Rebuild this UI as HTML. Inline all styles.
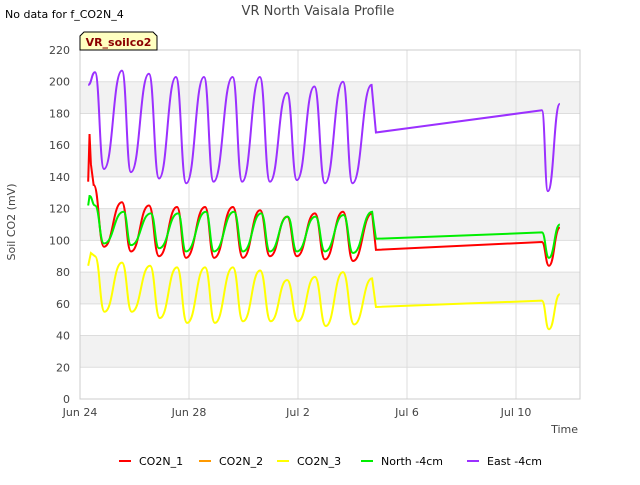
<!DOCTYPE html>
<html><head><meta charset="utf-8"><style>
body{margin:0;background:#fff;font-family:"Liberation Sans","DejaVu Sans",sans-serif;}
svg text{font-family:"DejaVu Sans","Liberation Sans",sans-serif;}
</style></head><body>
<svg id="c" width="640" height="480" xmlns="http://www.w3.org/2000/svg">
<rect width="640" height="480" fill="#fff"/>
<text x="5" y="18" font-size="11" fill="#000">No data for f_CO2N_4</text>
<text x="318" y="15" font-size="13" fill="#444" text-anchor="middle">VR North Vaisala Profile</text>
<g id="grid"></g>
<g id="axes"></g>
<g id="series"></g>
<text x="18" y="225" font-size="11" fill="#444" text-anchor="middle" transform="rotate(-90 15 225)">Soil CO2 (mV)</text>
<text x="578" y="433" font-size="11" fill="#444" text-anchor="end">Time</text>
<g>
<path d="M80,50 L80,36 L84,32 L153,32 L157,36 L157,50 Z" fill="#ffffc0" stroke="#000" stroke-width="1"/>
<text x="118.5" y="46" font-size="11" font-weight="bold" fill="#8b0000" text-anchor="middle">VR_soilco2</text>
</g>
<g id="legend"></g>
</svg>
<script>
const yTicks=[0,20,40,60,80,100,120,140,160,180,200,220];
const xTickDays=[0,4,8,12,16];
const xTickLabels=["Jun 24","Jun 28","Jul 2","Jul 6","Jul 10"];
const seriesNames=["CO2N_1","CO2N_2","CO2N_3","North -4cm","East -4cm"];
const seriesColors=["#ff0000","#ff9900","#ffff00","#00ee00","#9b30ff"];
const t1=[0.30,0.35,0.40,0.50,0.88,1.54,1.87,2.53,2.90,3.56,3.89,4.59,4.92,5.61,5.98,6.61,6.97,7.60,7.96,8.62,8.99,9.65,10.02,10.72,10.86,16.95,17.21,17.61];
const v1=[137,167,148,135,96,124,93,122,90,121,89,121,89,121,89,119,90,115,90,117,88,118,87,117,94,99,84,108];
const t3=[0.30,0.40,0.55,0.90,1.54,1.90,2.57,2.93,3.56,3.93,4.59,4.95,5.61,5.98,6.61,7.00,7.60,8.00,8.62,9.02,9.65,10.06,10.72,10.86,16.95,17.21,17.61];
const v3=[84,92,90,55,86,55,84,51,83,48,83,48,83,49,81,49,75,49,77,46,80,47,76,58,62,44,66];
const t4=[0.30,0.35,0.55,0.88,1.60,1.87,2.60,2.90,3.60,3.89,4.62,4.92,5.65,5.98,6.65,6.97,7.62,7.96,8.64,8.99,9.67,10.02,10.72,10.86,16.95,17.21,17.61];
const v4=[122,128,122,98,118,97,117,95,117,93,118,93,118,93,117,93,115,93,115,93,116,92,118,101,105,89,110];
const t5=[0.30,0.55,0.88,1.54,1.87,2.53,2.90,3.52,3.90,4.55,4.90,5.60,5.95,6.60,6.97,7.60,7.96,8.60,8.99,9.65,10.00,10.70,10.86,16.95,17.17,17.61];
const v5=[198,206,145,207,143,205,139,203,136,203,137,203,137,203,137,193,138,197,136,200,136,198,168,182,131,186];
const seriesT=[t1,null,t3,t4,t5];
const seriesV=[v1,null,v3,v4,v5];
const NS="http://www.w3.org/2000/svg";
const X0=80,X1=580,Y0=399,Y1=50;
const xs=d=>X0+d*27.25;
const ys=v=>Y0-(v/220)*(Y0-Y1);
function mk(tag,at,parent){const e=document.createElementNS(NS,tag);for(const k in at)e.setAttribute(k,at[k]);parent.appendChild(e);return e;}
const grid=document.getElementById('grid'),axes=document.getElementById('axes'),ser=document.getElementById('series'),leg=document.getElementById('legend');
for(let i=0;i<yTicks.length-1;i++){if(i%2===1){const r=mk('rect',{x:X0,y:ys(yTicks[i+1]),width:X1-X0,height:ys(yTicks[i])-ys(yTicks[i+1]),fill:'#f2f2f2'},grid);

}}
yTicks.forEach(v=>{const l=mk('line',{x1:X0,x2:X1,y1:ys(v),y2:ys(v),stroke:'#ddd','stroke-width':1},grid);


const t=mk('text',{x:X0-10,y:ys(v)+4,'font-size':11,fill:'#444','text-anchor':'end'},axes);t.textContent=v;

});
xTickDays.forEach((d,i)=>{const l=mk('line',{x1:xs(d),x2:xs(d),y1:Y1,y2:Y0,stroke:'#ddd','stroke-width':1},grid);


const t=mk('text',{x:xs(d),y:Y0+17,'font-size':11,fill:'#444','text-anchor':'middle'},axes);t.textContent=xTickLabels[i];

});
mk('rect',{x:X0,y:Y1,width:X1-X0,height:Y0-Y1,fill:'none',stroke:'#ccc'},axes);
[4,0,3,2].forEach(si=>{const T=seriesT[si],V=seriesV[si];if(!T)return;
let d='M'+xs(T[0])+','+ys(V[0]);
for(let i=1;i<T.length;i++){const xa=xs(T[i-1]),xb=xs(T[i]),ya=ys(V[i-1]),yb=ys(V[i]);
if(T[i]-T[i-1]>2||T[i]-T[i-1]<0.2){d+=' L'+xb+','+yb;}else{const m=(xa+xb)/2;d+=' C'+m+','+ya+' '+m+','+yb+' '+xb+','+yb;}}
const p=mk('path',{d:d,fill:'none',stroke:seriesColors[si],'stroke-width':2},ser);

});
const lx=[119,199,277,361,467];
seriesNames.forEach((n,i)=>{const g=mk('g',{},leg);


mk('line',{x1:lx[i],x2:lx[i]+12,y1:461,y2:461,stroke:seriesColors[i],'stroke-width':2},g);
const t=mk('text',{x:lx[i]+20,y:465,'font-size':11,fill:'#000'},g);t.textContent=n;});
</script>
</body></html>
